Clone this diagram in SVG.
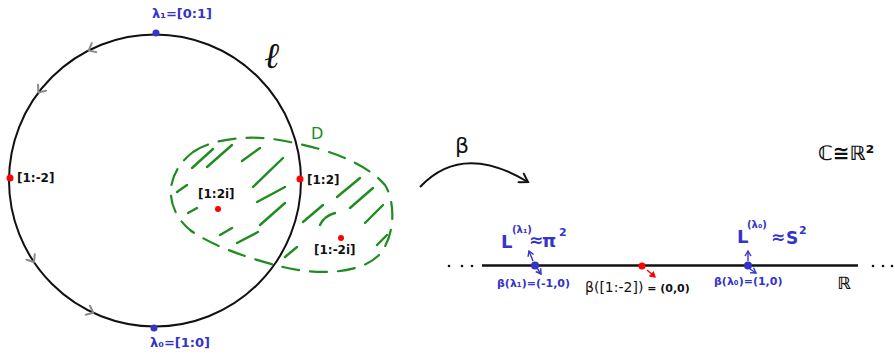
<svg xmlns="http://www.w3.org/2000/svg" width="895" height="357" viewBox="0 0 895 357">
<style>
.blk{fill:#111;font-family:"DejaVu Sans",sans-serif;font-weight:bold}
.blu{fill:#3434c8;font-family:"DejaVu Sans",sans-serif;font-weight:bold}
.grn{fill:#1e8c1e;font-family:"DejaVu Sans",sans-serif}
.hatch{stroke:#1e8c1e;stroke-width:2.4;stroke-linecap:round;fill:none}
.chev{stroke:#8a8a8a;stroke-width:2;fill:none;stroke-linecap:round;stroke-linejoin:round}
.rdot{fill:#f00}
.bdot{fill:#3434c8}
</style>
<defs>
<path id="chevron" class="chev" d="M-6,-5 L0,0 L-6,5"/>
<marker id="openhead" markerWidth="12" markerHeight="12" refX="10" refY="6" orient="auto" markerUnits="userSpaceOnUse">
<path d="M2,1 L10,6 L2,11" fill="none" stroke="#111" stroke-width="2" stroke-linecap="round"/>
</marker>
<marker id="bluehead" markerWidth="8" markerHeight="8" refX="6" refY="4" orient="auto" markerUnits="userSpaceOnUse">
<path d="M1,1 L6,4 L1,7" fill="none" stroke="#3434c8" stroke-width="1.4"/>
</marker>
<marker id="redhead" markerWidth="8" markerHeight="8" refX="6" refY="4" orient="auto" markerUnits="userSpaceOnUse">
<path d="M1,1 L6,4 L1,7" fill="#f00" stroke="#f00" stroke-width="1.2"/>
</marker>
</defs>
<rect width="895" height="357" fill="#fff"/>

<g id="region-D">
<path d="M193,152 C212,139 250,133 290,142 C330,150 366,163 385,185 C397,205 394,240 378,256 C360,273 320,276 283,267 C250,259 212,246 190,230 C168,212 160,178 193,152 Z" fill="none" stroke="#1e8c1e" stroke-width="2.2" stroke-dasharray="17 11" stroke-linecap="round"/>
<g class="hatch">
<path d="M192,168 L213,149"/>
<path d="M207,167 L232,145"/>
<path d="M242,161 L260,148"/>
<path d="M253,187 L283,158"/>
<path d="M177,192 L187,185"/>
<path d="M257,202 L285,187"/>
<path d="M188,213 L197,208"/>
<path d="M220,235 L232,228"/>
<path d="M237,243 L258,232"/>
<path d="M260,225 L285,203"/>
<path d="M285,257 L297,247"/>
<path d="M303,222 L323,205"/>
<path d="M320,225 Q324,216 335,213"/>
<path d="M337,197 L360,178"/>
<path d="M350,208 L373,188"/>
<path d="M365,223 L383,205"/>
<path d="M377,245 L387,235"/>
</g>
<text class="grn" x="311" y="139" font-size="16">D</text>
</g>

<g id="circle-l">
<circle cx="155" cy="180.5" r="146" fill="none" stroke="#111" stroke-width="2"/>
<use href="#chevron" transform="translate(88.7,50.4) rotate(153)"/>
<use href="#chevron" transform="translate(38.4,92.6) rotate(127)"/>
<use href="#chevron" transform="translate(34,262) rotate(56)"/>
<use href="#chevron" transform="translate(93.3,312.8) rotate(25)"/>
<text x="264" y="68" font-size="36" font-style="italic" fill="#111" font-family="'DejaVu Serif',serif">ℓ</text>
</g>

<g id="lambda1">
<circle class="bdot" cx="156" cy="33" r="3.5"/>
<text class="blu" x="152" y="18" font-size="13">λ₁=[0:1]</text>
</g>
<g id="lambda0">
<circle class="bdot" cx="154" cy="328" r="3.5"/>
<text class="blu" x="150" y="347" font-size="13">λ₀=[1:0]</text>
</g>
<g id="pt-1m2">
<circle class="rdot" cx="10" cy="178" r="3.5"/>
<text class="blk" x="17" y="182" font-size="12">[1:-2]</text>
</g>
<g id="pt-12">
<circle class="rdot" cx="300" cy="179" r="3.5"/>
<text class="blk" x="307" y="184" font-size="12">[1:2]</text>
</g>
<g id="pt-12i">
<circle class="rdot" cx="218" cy="209" r="3"/>
<text class="blk" x="198" y="198" font-size="12">[1:2i]</text>
</g>
<g id="pt-1m2i">
<circle class="rdot" cx="341" cy="238" r="3"/>
<text class="blk" x="314" y="254" font-size="12">[1:-2i]</text>
</g>

<g id="connectors">
<path d="M420,187 Q462,142 528,182" fill="none" stroke="#111" stroke-width="2" marker-end="url(#openhead)"/>
<text x="455" y="153" font-size="22" fill="#111" font-family="'DejaVu Sans',sans-serif">β</text>
<path d="M533,261 L529,251" stroke="#3434c8" stroke-width="1.4" marker-end="url(#bluehead)"/>
<path d="M537,268 L541,274" stroke="#3434c8" stroke-width="1.4" marker-end="url(#bluehead)"/>
<path d="M748,261 L748,251" stroke="#3434c8" stroke-width="1.4" marker-end="url(#bluehead)"/>
<path d="M750,269 L756,273" stroke="#3434c8" stroke-width="1.4" marker-end="url(#bluehead)"/>
<path d="M647,270 L655,277" stroke="#f00" stroke-width="1.4" marker-end="url(#redhead)"/>
</g>

<g id="real-line">
<line x1="482" y1="265.5" x2="858" y2="265.5" stroke="#111" stroke-width="2.5"/>
<g fill="#111">
<circle cx="449" cy="266" r="1.3"/><circle cx="462" cy="266" r="1.3"/><circle cx="472" cy="266" r="1.3"/>
<circle cx="873" cy="266" r="1.3"/><circle cx="883" cy="266" r="1.3"/><circle cx="892" cy="266" r="1.3"/>
</g>
<text x="837" y="289" font-size="17" font-weight="bold" fill="#111" font-family="'DejaVu Sans',sans-serif">ℝ</text>
</g>

<g id="plane-label">
<text x="818" y="160" font-size="20" font-weight="bold" fill="#111" font-family="'DejaVu Sans',sans-serif">ℂ≅ℝ²</text>
</g>

<g id="beta-lambda1">
<circle class="bdot" cx="535" cy="265.5" r="4"/>
<text class="blu" font-size="18" x="501" y="248">L</text>
<text class="blu" font-size="10" x="512" y="233">(λ₁)</text>
<text class="blu" font-size="17" x="529" y="246">≈</text>
<text class="blu" font-size="18" x="542" y="247">π</text>
<text class="blu" font-size="11" x="559" y="236">2</text>
<text class="blu" font-size="11" x="497" y="287">β(λ₁)=(-1,0)</text>
</g>

<g id="beta-12">
<circle class="rdot" cx="642" cy="266" r="3.5"/>
<text x="585" y="292" fill="#111" font-family="'DejaVu Sans',sans-serif"><tspan font-size="14">β([1:-2])</tspan><tspan font-size="11" font-weight="bold"> = (0,0)</tspan></text>
</g>

<g id="beta-lambda0">
<circle class="bdot" cx="748" cy="265.5" r="4"/>
<text class="blu" font-size="18" x="737" y="243">L</text>
<text class="blu" font-size="10" x="747" y="228">(λ₀)</text>
<text class="blu" font-size="17" x="771" y="243">≈</text>
<text class="blu" font-size="17" x="786" y="244">S</text>
<text class="blu" font-size="11" x="799" y="234">2</text>
<text class="blu" font-size="11" x="714" y="285">β(λ₀)=(1,0)</text>
</g>
</svg>
